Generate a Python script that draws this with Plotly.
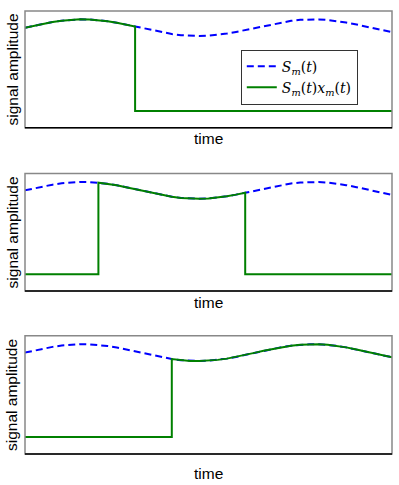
import plotly.graph_objects as go
from plotly.subplots import make_subplots

# time samples and the carrier S_m(t)
t = [0.0, 0.25, 0.5, 0.75, 1.0, 1.25, 1.5, 1.75, 2.0, 2.25, 2.5, 2.75, 3.0, 3.25,
     3.5, 3.75, 4.0, 4.25, 4.5, 4.75, 5.0, 5.25, 5.5, 5.75, 6.0, 6.25, 6.5, 6.75,
     7.0, 7.25, 7.5, 7.75, 8.0, 8.25, 8.5, 8.75, 9.0, 9.25, 9.5, 9.75, 10.0]
s_m = [1.000, 1.025, 1.048, 1.068, 1.084, 1.095, 1.100, 1.098, 1.091, 1.078, 1.060,
       1.038, 1.014, 0.989, 0.965, 0.943, 0.924, 0.910, 0.902, 0.900, 0.904, 0.914,
       0.929, 0.949, 0.972, 0.997, 1.022, 1.045, 1.066, 1.082, 1.094, 1.099, 1.099,
       1.092, 1.080, 1.062, 1.041, 1.017, 0.992, 0.968, 0.946]

# on-window of x_m(t) in each panel (start, end)
gate_on = [0.0, 2.0, 4.0]
gate_off = [3.0, 6.0, 10.0]

BLUE = "#0000ff"
GREEN = "#008000"
FONT = "Liberation Sans, Arial, sans-serif"


def gated(ts, ss, on, off):
    xs, ys = [], []
    for ti, si in zip(ts, ss):
        inside = on <= ti <= off
        if ti == on and on > ts[0]:
            xs.append(ti); ys.append(0.0)
        xs.append(ti); ys.append(si if inside else 0.0)
        if ti == off and off < ts[-1]:
            xs.append(ti); ys.append(0.0)
    return xs, ys


# pixel-derived domains
domains = [(0.7366, 1.0), (0.368, 0.633), (0.0, 0.267)]
time_y = [0.7117, 0.3427, -0.0445]

fig = make_subplots(rows=3, cols=1)

for i in range(3):
    row = i + 1
    fig.add_trace(go.Scatter(
        x=t, y=s_m, mode="lines",
        name="<i>S<sub>m</sub></i>(<i>t</i>)",
        line=dict(color=BLUE, width=2, dash="7px,4px"),
        showlegend=(i == 0), legendgroup="s",
    ), row=row, col=1)
    gx, gy = gated(t, s_m, gate_on[i], gate_off[i])
    fig.add_trace(go.Scatter(
        x=gx, y=gy, mode="lines",
        name="<i>S<sub>m</sub></i>(<i>t</i>)<i>x<sub>m</sub></i>(<i>t</i>)",
        line=dict(color=GREEN, width=2),
        showlegend=(i == 0), legendgroup="g",
    ), row=row, col=1)

    xa = "x" if i == 0 else f"x{row}"
    ya = "y" if i == 0 else f"y{row}"
    fig.update_xaxes(range=[0, 10], showticklabels=False, ticks="", showgrid=False,
                     zeroline=False, showline=False, row=row, col=1)
    fig.update_yaxes(range=[-0.2, 1.2], showticklabels=False, ticks="", showgrid=False,
                     zeroline=False, showline=False, domain=list(domains[i]), row=row, col=1)

    # frame: grey box with a black bottom spine
    fig.add_shape(type="rect", xref=f"{xa} domain", yref=f"{ya} domain",
                  x0=0, x1=1, y0=0, y1=1, line=dict(color="#888888", width=1.5))
    fig.add_shape(type="line", xref=f"{xa} domain", yref=f"{ya} domain",
                  x0=0, x1=1, y0=0, y1=0, line=dict(color="black", width=1.5))

    fig.add_annotation(text="signal amplitude", xref="paper", yref="paper",
                       x=-0.035, y=(domains[i][0] + domains[i][1]) / 2,
                       textangle=-90, showarrow=False, xanchor="center", yanchor="middle",
                       font=dict(family=FONT, size=15.5, color="black"))
    fig.add_annotation(text="time", xref="paper", yref="paper",
                       x=0.5, y=time_y[i], showarrow=False,
                       xanchor="center", yanchor="middle",
                       font=dict(family=FONT, size=15.5, color="black"))

fig.update_layout(
    width=399, height=485,
    margin=dict(l=25, r=7, t=11, b=31),
    paper_bgcolor="white", plot_bgcolor="white",
    showlegend=True,
    legend=dict(
        x=0.588, y=0.913, xanchor="left", yanchor="top",
        bgcolor="white", bordercolor="#333333", borderwidth=1,
        font=dict(family="DejaVu Serif, serif", size=14, color="black"),
        tracegroupgap=0, itemwidth=30,
    ),
)

# drop the default body margin so the figure sits at the window's corner
fig.write_html("out.html", config={"displayModeBar": False},
               post_script="document.body.style.margin = '0';")
